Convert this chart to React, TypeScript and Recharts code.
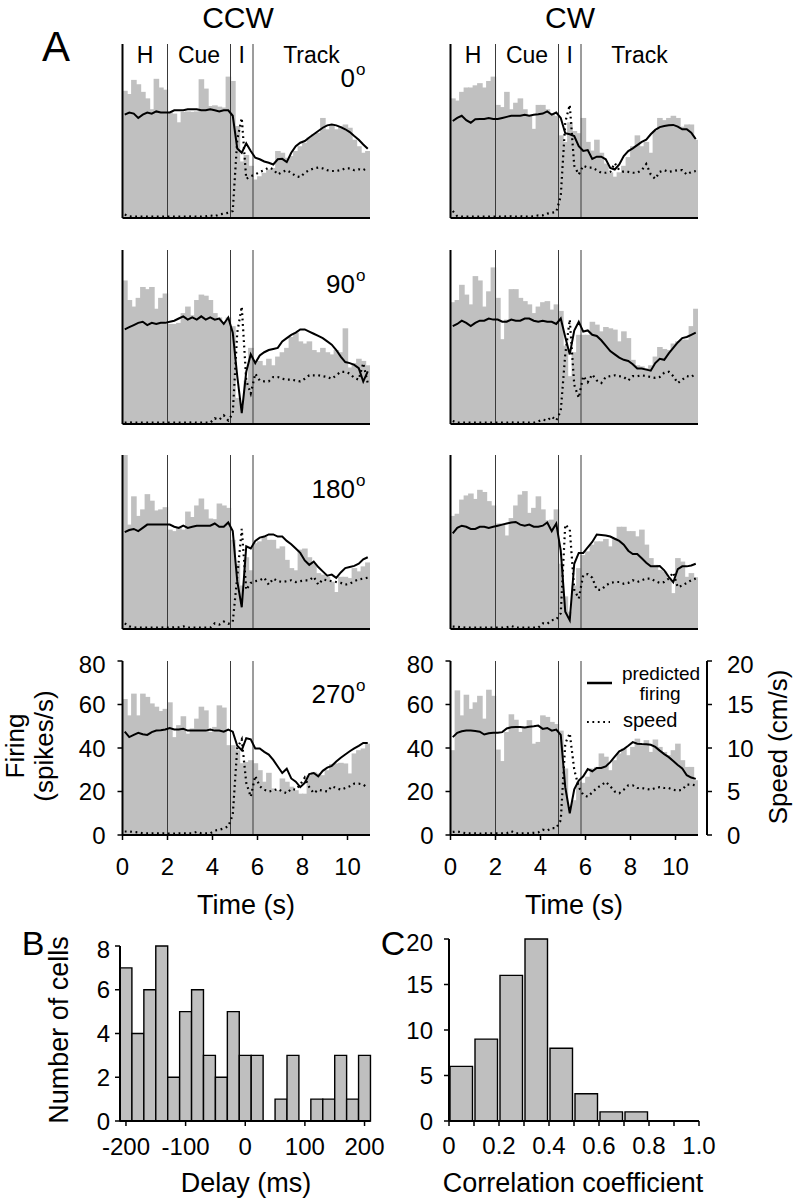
import React from 'react';
import { ComposedChart, BarChart, Bar, Line, XAxis, YAxis, ReferenceLine, ReferenceArea } from 'recharts';

const FONT = '"Liberation Sans", Arial, Helvetica, sans-serif';
const GRAY = '#c0c0c0';

// ---------- axes / categories ----------
const timeTicks = [0, 2, 4, 6, 8, 10];
const firingTicks = [0, 20, 40, 60, 80];
const speedTicks = [0, 5, 10, 15, 20];
const phaseEdges = [2, 4.8, 5.8];
const phaseNames = ['H', 'Cue', 'I', 'Track'];
const phaseStarts = [0, 2, 4.8, 5.8];
const phaseEnds = [2, 4.8, 5.8, 11];
const angleLabels = ['0', '90', '180', '270'];

// ---------- panel A data (0.2 s bins, 0-11 s) ----------
// firing rate histogram (spikes/s), predicted firing (spikes/s), speed (cm/s)
const ccw0Rate = [58.5, 57, 63.5, 61.5, 58, 55, 50, 64, 60, 59, 48.8, 48, 44, 48.8, 49, 48.8, 49, 63.8, 59.5, 51.5, 51.8, 51.2, 50.8, 65, 63, 42.3, 26, 29, 24, 17.7, 19.2, 20.8, 22.3, 23, 30.8, 30, 27.7, 28.5, 30.8, 33, 34.6, 37, 38.5, 39.2, 46, 40.8, 42.3, 40.8, 42.3, 43, 41.5, 36, 33, 30, 30.8];
const ccw0Pred = [47.5, 48.5, 48, 46, 47.5, 48.5, 48, 49, 48.5, 48.5, 48.5, 49.5, 49.5, 49.5, 50, 50, 50, 49.5, 49.5, 50, 49.5, 49, 49.5, 49.5, 47, 32, 30, 34.3, 30.8, 27.7, 27, 26, 25.4, 24.6, 27, 27.2, 25.7, 30, 33, 34.6, 35.4, 37, 38.5, 40, 41.5, 42.6, 43, 42.6, 41.8, 40.8, 39.5, 37.7, 36, 33.8, 31.8];
const ccw0Speed = [0.4, 0.2, 0.15, 0.15, 0.15, 0.15, 0.15, 0.15, 0.15, 0.15, 0.15, 0.15, 0.15, 0.15, 0.15, 0.2, 0.15, 0.15, 0.2, 0.3, 0.2, 0.4, 0.5, 0.6, 0.8, 9, 11.5, 4.5, 4.8, 5.0, 5.3, 5.5, 5.8, 5.6, 5.0, 5.3, 5.5, 5.2, 4.8, 4.7, 5.2, 5.5, 5.7, 5.8, 5.7, 5.5, 5.4, 5.4, 5.5, 5.7, 5.7, 5.5, 5.6, 5.5, 5.8];

const cw0Rate = [55, 54, 58, 60, 60, 61, 62, 60, 63, 65, 52, 51, 58, 50, 53, 55, 50, 47, 41, 52, 52, 50, 48, 47, 38, 35, 44, 40, 39, 46, 35, 31, 36, 30, 25, 21, 19, 21, 24, 28, 33, 38, 33, 35, 30, 40, 46, 45, 46, 47, 46, 42, 43, 43, 36];
const cw0Pred = [44.6, 46, 47, 45, 43.8, 45.4, 45.5, 45.5, 46, 45.5, 45.5, 46, 46.5, 47, 47, 47, 47.5, 47, 47.5, 47.7, 48, 49, 47.5, 48.5, 46, 39, 38.5, 37.7, 33, 30.8, 31.2, 27.2, 28.2, 28.2, 27, 23, 22.3, 24.6, 28.5, 30.8, 32, 33.5, 35, 36, 38.5, 40.5, 41.8, 42.3, 42.6, 42.8, 42, 40.8, 40.8, 39.2, 36.3];
const cw0Speed = [0.8, 0.2, 0.15, 0.15, 0.15, 0.15, 0.15, 0.15, 0.15, 0.15, 0.15, 0.15, 0.2, 0.2, 0.15, 0.2, 0.15, 0.15, 0.2, 0.3, 0.3, 0.5, 0.6, 0.7, 2.5, 11, 13, 6, 5, 6, 5.8, 5.8, 5.5, 5.2, 5.2, 5.3, 6.3, 5.5, 5.3, 5.3, 5.2, 5.2, 5.5, 6.2, 5, 4.5, 5.3, 5.5, 5.3, 5.4, 5.5, 5.5, 5, 5.3, 5.4];

const ccw90Rate = [66, 57, 54, 58, 63, 62, 63, 53, 58, 60, 46, 46, 46.5, 51, 54, 50, 57, 59.5, 59, 57, 51, 49, 47, 49, 45, 12, 8, 20, 35, 28, 29, 27, 30, 27, 31, 33, 35, 40, 42, 38, 37, 38, 34, 33, 35, 33, 32, 34, 33, 44, 26, 28, 30, 29, 27];
const ccw90Pred = [43.5, 44.5, 45.5, 46.5, 47, 45.5, 46.5, 46, 46.5, 46.5, 47, 47.5, 48.5, 49.5, 48, 49, 48, 49.5, 48, 49, 48, 48.5, 46, 49, 42, 22, 5, 24, 32, 28, 31.5, 33, 34, 34.5, 35, 38, 39.5, 41, 42, 43.5, 43.5, 42.5, 41.5, 40.5, 39.5, 38, 36.5, 34, 31, 28.5, 28, 27.2, 25.7, 19.5, 24.2];
const ccw90Speed = [0.15, 0.2, 0.15, 0.15, 0.15, 0.15, 0.15, 0.15, 0.15, 0.15, 0.15, 0.15, 0.15, 0.15, 0.15, 0.2, 0.15, 0.15, 0.15, 0.15, 0.65, 0.5, 1.0, 0.4, 1.2, 10.5, 13.5, 5, 3.5, 5.8, 5.0, 4.9, 4.9, 5.4, 5.4, 5.2, 5.1, 5.1, 5.0, 4.9, 5.2, 5.6, 5.6, 5.6, 5.5, 5.4, 5.2, 5.6, 6.0, 6.0, 5.8, 5.3, 5.1, 7.0, 4.7];

const cw90Rate = [56, 57, 64, 59.5, 55, 68, 66, 54, 61, 72, 58, 39, 48, 62, 62, 58, 56.5, 55, 51, 54, 56, 56.5, 52.6, 55, 52, 36, 22, 33, 41, 41, 41, 47, 45.7, 42.6, 44.6, 44, 43.4, 38, 42.6, 39.5, 29.5, 27, 26.5, 25.7, 27, 31, 35.4, 34.5, 34, 37, 38, 38.8, 38.8, 45, 53];
const cw90Pred = [45, 46, 47.5, 46.5, 45, 46.5, 47.5, 47.5, 48.5, 48, 48, 47, 47, 48, 47.5, 47.5, 48.5, 48.5, 47.5, 47, 47.5, 47, 47, 46, 48.5, 40, 32, 43, 47, 42.5, 43, 41, 40.5, 38.5, 36, 33.5, 32, 30.5, 29.5, 29, 27.5, 25.5, 25.5, 25, 24.5, 28, 30, 29.5, 32.5, 35, 37.5, 39.5, 40, 41, 42];
const cw90Speed = [0.35, 0.15, 0.15, 0.15, 0.15, 0.15, 0.15, 0.15, 0.15, 0.15, 0.15, 0.15, 0.15, 0.2, 0.15, 0.15, 0.2, 0.15, 0.15, 0.3, 0.5, 0.4, 0.85, 0.4, 1.5, 8, 12, 4.5, 3.0, 5.5, 4.8, 5.7, 5.0, 4.7, 5.4, 5.5, 5.6, 5.5, 5.4, 5.0, 5.5, 5.5, 5.6, 5.5, 5.4, 5.3, 5.4, 5.9, 6.0, 5.5, 4.7, 5.1, 5.5, 5.4, 5.8];

const ccw180Rate = [80, 48, 61, 52, 55, 62, 59, 54.5, 55, 56, 45.7, 45, 47, 45.7, 54, 51.5, 56.8, 60, 55, 50.8, 50.5, 57.7, 56.8, 55.7, 41, 30, 20, 33, 27, 39.5, 40.3, 42.6, 41, 41, 37, 38, 31.8, 28, 27, 36.5, 37, 33, 30, 25.7, 25, 24, 21.8, 17, 24, 24, 23.4, 28, 26.5, 28.8, 30.6];
const ccw180Pred = [44.5, 45.5, 46, 45, 46.5, 48, 48, 48, 48, 48, 48, 47, 46.5, 47.5, 46.5, 47, 47.5, 47.5, 47.5, 47.5, 48.5, 47, 47, 49, 45, 22, 10, 38, 37, 40.5, 42, 42.5, 43.5, 43.5, 42.5, 42.5, 40.5, 39, 37, 35, 31.5, 29.5, 31, 28.5, 26.5, 24.5, 25, 23.5, 26, 28, 28.5, 29, 30, 32, 33];
const ccw180Speed = [0.65, 0.3, 0.2, 0.15, 0.15, 0.15, 0.15, 0.15, 0.2, 0.15, 0.15, 0.2, 0.2, 0.3, 0.15, 0.15, 0.15, 0.15, 0.15, 0.15, 0.65, 0.5, 0.85, 0.6, 0.8, 6, 11.5, 4.5, 5.3, 5.5, 5.6, 5.9, 5.1, 5.8, 5.5, 5.4, 5.5, 5.6, 5.4, 5.5, 5.6, 5.6, 6.0, 5.1, 5.7, 5.6, 5.5, 5.4, 5.3, 5.1, 5.2, 5.5, 5.7, 5.8, 5.9];

const cw180Rate = [52, 53, 59.5, 61.4, 62.3, 59.8, 64, 63, 58.8, 56.8, 48.5, 48.5, 43, 51, 56.8, 61.8, 63.4, 53.4, 55.7, 61, 55, 50, 50.3, 55, 30, 15, 8, 20, 28, 34, 35.7, 38.8, 40.3, 40.3, 41.4, 38, 41.8, 47, 47, 45, 45, 42.6, 45.7, 38.8, 32.6, 29.5, 27.2, 26.5, 22.6, 16.5, 32.6, 31, 24, 25.7, 23.8];
const cw180Pred = [44, 46.5, 47.5, 47, 46, 46, 47, 47, 46.5, 47, 47.5, 48, 48.5, 49, 49.2, 48, 47.5, 48, 47, 47, 47.5, 49, 45, 48.5, 36, 8, 4, 30, 35, 35, 37.5, 40, 43.4, 43.2, 43, 42.5, 41.5, 40.5, 38.8, 36, 34.5, 34.5, 32.5, 30.5, 28.8, 28.8, 29, 27, 24, 21.5, 27.5, 28.8, 28.8, 29.2, 30];
const cw180Speed = [0.27, 0.25, 0.2, 0.15, 0.15, 0.15, 0.15, 0.15, 0.15, 0.15, 0.15, 0.15, 0.2, 0.35, 0.15, 0.15, 0.15, 0.15, 0.15, 0.15, 0.65, 0.6, 1.0, 1.1, 1.8, 12, 11.5, 4.5, 3.5, 6.2, 6.3, 5.9, 4.5, 4.5, 5.0, 5.3, 5.4, 5.4, 5.2, 5.3, 5.6, 5.4, 5.6, 5.8, 5.8, 5.5, 5.3, 5.4, 5.8, 6.5, 4.8, 5.0, 5.3, 5.6, 5.8];

const ccw270Rate = [62.5, 55, 65, 55, 65, 63.5, 60.5, 59, 57, 58, 61, 45, 50.5, 54.6, 46.6, 49, 53.5, 59, 57.3, 47.4, 49.7, 59.6, 58.6, 41.3, 41.3, 39, 33, 33.6, 34.4, 33, 29.8, 24.5, 28.6, 21.4, 20.6, 26, 24.5, 22.2, 20.6, 19, 19, 27.5, 29, 28.3, 27.5, 29.8, 32.6, 32.9, 33.2, 32.9, 28.3, 37.5, 39, 39.8, 42];
const ccw270Pred = [47.5, 45, 46, 47, 46.3, 46, 47.3, 48, 48.2, 48.5, 49.2, 48.5, 48.5, 48.8, 48, 48, 48, 48, 48, 48.5, 48, 48, 47.5, 48.5, 47.5, 41, 39, 44.5, 44, 39.8, 39.8, 38.2, 37, 34.5, 31.5, 28.5, 30.5, 26, 24.5, 22, 24, 28, 28.5, 27, 29.5, 31, 31.8, 33.8, 35.5, 37, 38.5, 39.8, 41, 42.3, 42.3];
const ccw270Speed = [0.4, 0.4, 0.35, 0.3, 0.2, 0.2, 0.2, 0.2, 0.2, 0.2, 0.15, 0.15, 0.2, 0.2, 0.2, 0.2, 0.35, 0.2, 0.2, 0.2, 0.5, 0.6, 0.75, 1.0, 2.3, 10, 11, 6, 4.4, 6.8, 5.6, 5.2, 5.0, 5.1, 5.3, 5.0, 4.8, 5.3, 5.2, 5.8, 6.6, 5.5, 4.8, 5.2, 5.1, 5.0, 5.6, 5.4, 5.2, 5.4, 5.6, 5.9, 5.9, 5.8, 5.4];

const cw270Rate = [39, 66.5, 55, 64.5, 58, 61, 64, 53.5, 66.8, 64, 39.3, 34, 47.4, 55.5, 53, 47.4, 49.7, 52.8, 42, 42.8, 55, 54.3, 52, 51, 48, 30.6, 13, 16, 24.5, 24, 26.8, 30.6, 31.3, 37.5, 36, 29.8, 34.4, 37.5, 39.8, 36.7, 40.5, 44.3, 41.3, 43.6, 38.2, 43.9, 40.5, 38.2, 36.7, 39, 42, 34.4, 31.3, 31.3, 25.2];
const cw270Pred = [45, 47, 47.7, 48, 48, 47.8, 47.5, 46.2, 46.8, 47, 47, 47.3, 49, 49.5, 49.7, 49.6, 49.4, 49.8, 50, 50.3, 48.8, 49.2, 48, 48.5, 46, 22, 10, 21, 25, 27, 30.3, 29.3, 30.8, 30.8, 31.5, 33.5, 36, 38.5, 39.5, 41, 42.7, 42, 41.8, 41.7, 41.5, 40.5, 38.8, 37.2, 35.8, 34, 32.2, 30.6, 27.5, 26.4, 25.8];
const cw270Speed = [0.35, 0.4, 0.3, 0.2, 0.2, 0.2, 0.15, 0.2, 0.2, 0.2, 0.2, 0.2, 0.2, 0.45, 0.2, 0.2, 0.2, 0.2, 0.25, 0.3, 0.6, 0.5, 0.8, 0.8, 1.7, 10.5, 11.7, 7.5, 5.5, 4.6, 4.4, 4.9, 5.4, 5.7, 6.1, 5.6, 5.0, 4.8, 5.2, 5.7, 5.7, 5.4, 5.4, 5.3, 5.2, 5.4, 5.5, 5.4, 5.4, 5.2, 5.1, 5.2, 5.8, 5.8, 5.7];

// ---------- panel B / C data ----------
const delayBins = [-200, -180, -160, -140, -120, -100, -80, -60, -40, -20, 0, 20, 40, 60, 80, 100, 120, 140, 160, 180, 200];
const delayCounts = [7, 4, 6, 8, 2, 5, 6, 3, 2, 5, 3, 3, 0, 1, 3, 0, 1, 1, 3, 1, 3];
const delayTicks = [-200, -100, 0, 100, 200];
const cellTicks = [0, 2, 4, 6, 8];

const corrBins = [0.05, 0.15, 0.25, 0.35, 0.45, 0.55, 0.65, 0.75, 0.85, 0.95];
const corrCounts = [6, 9, 16, 20, 8, 3, 1, 1, 0, 0];
const corrTicks = [0, 0.1, 0.2, 0.3, 0.4, 0.5, 0.6, 0.7, 0.8, 0.9, 1.0];
const corrLabels = ['0', '', '0.2', '', '0.4', '', '0.6', '', '0.8', '', '1.0'];
const corrCountTicks = [0, 5, 10, 15, 20];

// ---------- layout ----------
const PLOT_H = 174;
const BASELINES = [218, 424, 629, 835];
const COLS = {
  ccw: { chartLeft: 0, chartW: 400, plotLeft: 122.5, plotRight: 370 },
  cw: { chartLeft: 330, chartW: 464, plotLeft: 450.5, plotRight: 698 },
};
const tickFont = { fontSize: 24, fill: '#000', fontFamily: FONT };
const axisStyle = { stroke: '#000', strokeWidth: 2 };
const tickStyle = { stroke: '#000', strokeWidth: 1.5 };

// histogram bar: widened slightly so that neighbouring bins overlap without seams
function HistBar(props: any) {
  const { x, y, width, height } = props;
  if (!height || height <= 0) return null;
  return <rect x={x - 0.4} y={y} width={width + 1.2} height={height} fill={GRAY} />;
}

type PanelProps = { col: 'ccw' | 'cw'; row: number; rate: number[]; pred: number[]; speed: number[] };

function Panel({ col, row, rate, pred, speed }: PanelProps) {
  const c = COLS[col];
  const isBottom = row === 3;
  const rightAxis = col === 'cw' && row === 3;
  const AX_GAP = 9;
  const Y_W = 60;
  const R_W = 50;
  const plotRightEdge = c.plotRight + (rightAxis ? AX_GAP : 0);
  const margin = {
    top: 10,
    bottom: 0,
    left: c.plotLeft - c.chartLeft - Y_W,
    right: c.chartW - (plotRightEdge - c.chartLeft) - (rightAxis ? R_W : 0),
  };
  const H = 10 + PLOT_H + 50;
  const top = BASELINES[row] - PLOT_H - 10;
  const data = rate.map((v, i) => ({
    t: Math.round((0.1 + 0.2 * i) * 10) / 10,
    rate: v,
    pred: pred[i],
    speed: speed[i],
  }));
  return (
    <div style={{ position: 'absolute', left: c.chartLeft, top }}>
      <ComposedChart width={c.chartW} height={H} data={data} margin={margin} barGap={0} barCategoryGap={0}>
        <XAxis
          dataKey="t"
          type="number"
          domain={[0, 11]}
          ticks={timeTicks}
          allowDataOverflow
          padding={{ left: 0, right: rightAxis ? AX_GAP : 0 }}
          height={50}
          tickSize={5}
          tickMargin={18}
          axisLine={rightAxis ? false : axisStyle}
          tickLine={tickStyle}
          tick={isBottom ? tickFont : false}
        />
        <YAxis
          yAxisId="fire"
          domain={[0, 80]}
          ticks={firingTicks}
          allowDataOverflow
          width={Y_W}
          tickSize={5}
          tickMargin={12}
          axisLine={axisStyle}
          tickLine={tickStyle}
          tick={isBottom ? tickFont : false}
        />
        <YAxis
          yAxisId="spd"
          orientation="right"
          domain={[0, 20]}
          ticks={speedTicks}
          allowDataOverflow
          hide={!rightAxis}
          width={rightAxis ? R_W : 0}
          tickSize={5}
          tickMargin={15}
          axisLine={axisStyle}
          tickLine={tickStyle}
          tick={tickFont}
        />
        <Bar yAxisId="fire" dataKey="rate" fill={GRAY} barSize={4.4} shape={HistBar} isAnimationActive={false} />
        {phaseEdges.map((x) => (
          <ReferenceLine key={x} yAxisId="fire" x={x} stroke="#3a3a3a" strokeWidth={1} />
        ))}
        {rightAxis && (
          <ReferenceLine yAxisId="fire" segment={[{ x: 0, y: 0 }, { x: 11, y: 0 }]} stroke="#000" strokeWidth={2} />
        )}
        {row === 0 &&
          phaseNames.map((name, i) => (
            <ReferenceArea
              key={name}
              yAxisId="fire"
              x1={phaseStarts[i]}
              x2={phaseEnds[i]}
              y1={0}
              y2={80}
              fill="none"
              fillOpacity={0}
              stroke="none"
              label={{ value: name, position: 'insideTop', offset: 3, fontSize: 23, fill: '#000', fontFamily: FONT }}
            />
          ))}
        <Line
          yAxisId="spd"
          dataKey="speed"
          type="linear"
          stroke="#000"
          strokeWidth={2.2}
          strokeDasharray="1.8 3.6"
          dot={false}
          isAnimationActive={false}
        />
        <Line yAxisId="fire" dataKey="pred" type="linear" stroke="#000" strokeWidth={2} dot={false} isAnimationActive={false} />
      </ComposedChart>
    </div>
  );
}

function DelayHist() {
  const data = delayBins.map((d, i) => ({ delay: d, n: delayCounts[i] }));
  return (
    <div style={{ position: 'absolute', left: 0, top: 936 }}>
      <BarChart width={400} height={225} data={data} margin={{ top: 10, left: 60, right: 29.5, bottom: 0 }} barGap={0} barCategoryGap={0}>
        <XAxis
          dataKey="delay"
          type="number"
          domain={[-210, 210]}
          ticks={delayTicks}
          height={40}
          tickSize={5}
          tickMargin={12}
          axisLine={axisStyle}
          tickLine={tickStyle}
          tick={tickFont}
        />
        <YAxis domain={[0, 8]} ticks={cellTicks} width={60} tickSize={5} tickMargin={5} axisLine={axisStyle} tickLine={tickStyle} tick={tickFont} />
        <Bar dataKey="n" fill="#bfbfbf" stroke="#000" strokeWidth={1.4} barSize={11.9} isAnimationActive={false} />
      </BarChart>
    </div>
  );
}

function CorrHist() {
  const data = corrBins.map((r, i) => ({ r, n: corrCounts[i] }));
  return (
    <div style={{ position: 'absolute', left: 330, top: 929 }}>
      <BarChart width={464} height={232} data={data} margin={{ top: 10, left: 59, right: 95, bottom: 0 }} barGap={0} barCategoryGap={0}>
        <XAxis
          dataKey="r"
          type="number"
          domain={[0, 1]}
          ticks={corrTicks}
          tickFormatter={(v: number, i: number) => corrLabels[i] ?? ''}
          height={40}
          tickSize={5}
          tickMargin={11}
          axisLine={axisStyle}
          tickLine={tickStyle}
          tick={tickFont}
          interval={0}
        />
        <YAxis domain={[0, 20]} ticks={corrCountTicks} width={60} tickSize={5} tickMargin={11} axisLine={axisStyle} tickLine={tickStyle} tick={tickFont} />
        <Bar dataKey="n" fill="#bfbfbf" stroke="#000" strokeWidth={1.4} barSize={25} isAnimationActive={false} />
      </BarChart>
    </div>
  );
}

const panels = [
  { col: 'ccw' as const, row: 0, rate: ccw0Rate, pred: ccw0Pred, speed: ccw0Speed },
  { col: 'cw' as const, row: 0, rate: cw0Rate, pred: cw0Pred, speed: cw0Speed },
  { col: 'ccw' as const, row: 1, rate: ccw90Rate, pred: ccw90Pred, speed: ccw90Speed },
  { col: 'cw' as const, row: 1, rate: cw90Rate, pred: cw90Pred, speed: cw90Speed },
  { col: 'ccw' as const, row: 2, rate: ccw180Rate, pred: ccw180Pred, speed: ccw180Speed },
  { col: 'cw' as const, row: 2, rate: cw180Rate, pred: cw180Pred, speed: cw180Speed },
  { col: 'ccw' as const, row: 3, rate: ccw270Rate, pred: ccw270Pred, speed: ccw270Speed },
  { col: 'cw' as const, row: 3, rate: cw270Rate, pred: cw270Pred, speed: cw270Speed },
];

export default function App() {
  const angleBase = [87, 293, 498, 703];
  return (
    <div style={{ position: 'absolute', left: 0, top: 0, width: 794, height: 1199, background: '#fff', fontFamily: FONT }}>
      {panels.map((p) => (
        <Panel key={p.col + p.row} {...p} />
      ))}
      <DelayHist />
      <CorrHist />
      <svg width={794} height={1199} style={{ position: 'absolute', left: 0, top: 0, pointerEvents: 'none' }} fontFamily={FONT} fill="#000">
        <text x={56} y={61} fontSize={42} textAnchor="middle">A</text>
        <text x={238} y={28} fontSize={30} textAnchor="middle">CCW</text>
        <text x={570} y={28} fontSize={30} textAnchor="middle">CW</text>
        {angleLabels.map((a, i) => (
          <g key={a}>
            <text x={355} y={angleBase[i]} fontSize={26} textAnchor="end">{a}</text>
            <text x={356} y={angleBase[i] - 12} fontSize={17}>o</text>
          </g>
        ))}
        <text transform="translate(24,746) rotate(-90)" fontSize={26} textAnchor="middle">Firing</text>
        <text transform="translate(53,746) rotate(-90)" fontSize={26} textAnchor="middle">(spikes/s)</text>
        <text transform="translate(787,747) rotate(-90)" fontSize={26} textAnchor="middle">Speed (cm/s)</text>
        <text x={246} y={914} fontSize={27} textAnchor="middle">Time (s)</text>
        <text x={574} y={914} fontSize={27} textAnchor="middle">Time (s)</text>
        <text x={33} y={955} fontSize={34} textAnchor="middle">B</text>
        <text x={393} y={955} fontSize={34} textAnchor="middle">C</text>
        <text transform="translate(68,1030) rotate(-90)" fontSize={27} textAnchor="middle">Number of cells</text>
        <text x={246} y={1192} fontSize={27} textAnchor="middle">Delay (ms)</text>
        <text x={573} y={1192} fontSize={27} textAnchor="middle">Correlation coefficient</text>
        {/* legend */}
        <line x1={587} y1={683} x2={612} y2={683} stroke="#000" strokeWidth={2.5} />
        <text x={661} y={680} fontSize={19} textAnchor="middle">predicted</text>
        <text x={660} y={700} fontSize={19} textAnchor="middle">firing</text>
        <line x1={587} y1={722} x2={610} y2={722} stroke="#000" strokeWidth={2.2} strokeDasharray="1.8 3.6" />
        <text x={623} y={727} fontSize={20}>speed</text>
      </svg>
    </div>
  );
}
